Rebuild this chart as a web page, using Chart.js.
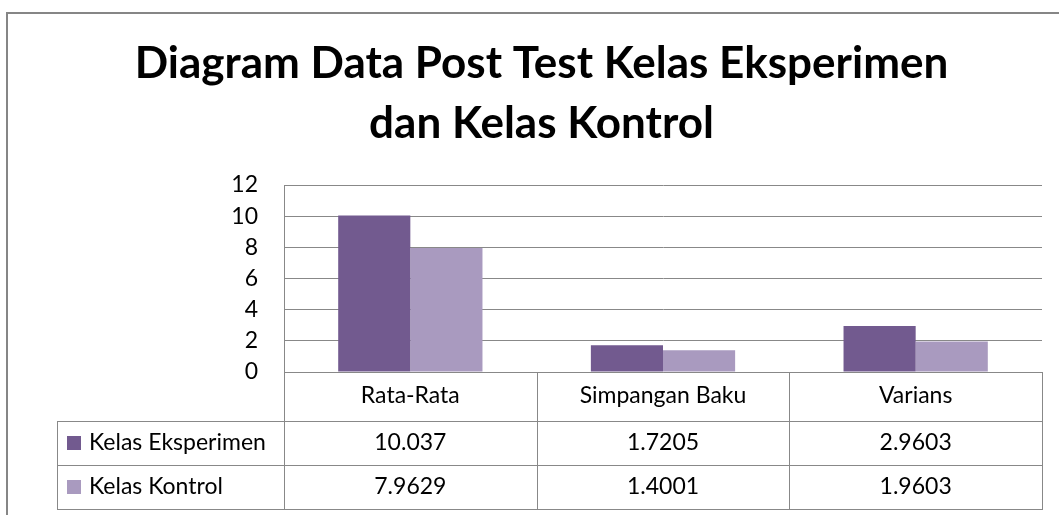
<!DOCTYPE html>
<html>
<head>
<meta charset="utf-8">
<script src="https://cdn.jsdelivr.net/npm/chart.js@4"></script>
<style>
  html, body { margin: 0; padding: 0; background: #fff; }
  #wrap { width: 1059px; height: 515px; position: relative; }
</style>
</head>
<body>
<div id="wrap"><canvas id="myChart"></canvas></div>
<script>
const categories = ['Rata-Rata', 'Simpangan Baku', 'Varians'];
const seriesNames = ['Kelas Eksperimen', 'Kelas Kontrol'];
const eksperimen = [10.037, 1.7205, 2.9603];
const kontrol = [7.9629, 1.4001, 1.9603];
const yTicks = [0, 2, 4, 6, 8, 10, 12];

const colors = ['#725a8f', '#a99abf'];
const lineColor = '#888888';
const fontFamily = 'Lato, "Open Sans", sans-serif';

// data table under the plot, columns follow the x scale
const dataTable = {
    id: 'dataTable',
    afterDraw(chart) {
        const c = chart.ctx;
        const x = chart.scales.x;
        const area = chart.chartArea;
        const half = (x.getPixelForValue(1) - x.getPixelForValue(0)) / 2;
        const tableLeft = 57;
        const rowTops = [area.bottom, 421, 465, 509];
        const rows = [eksperimen, kontrol];

        c.save();
        c.strokeStyle = lineColor;
        c.lineWidth = 1;
        c.beginPath();
        // horizontal lines
        for (let i = 1; i < rowTops.length; i++) {
            c.moveTo(tableLeft, rowTops[i] + 0.5);
            c.lineTo(area.right + 1, rowTops[i] + 0.5);
        }
        // column lines
        c.moveTo(area.left + 0.5, area.bottom);
        c.lineTo(area.left + 0.5, rowTops[3]);
        categories.forEach((cat, i) => {
            const r = Math.round(x.getPixelForValue(i) + half) + 0.5;
            c.moveTo(r, area.bottom);
            c.lineTo(r, rowTops[3]);
        });
        c.moveTo(tableLeft + 0.5, rowTops[1]);
        c.lineTo(tableLeft + 0.5, rowTops[3]);
        c.stroke();

        c.font = '23px ' + fontFamily;
        c.textBaseline = 'middle';
        rows.forEach((vals, r) => {
            const cy = (rowTops[r + 1] + rowTops[r + 2]) / 2;
            c.fillStyle = colors[r];
            c.fillRect(67, cy - 7, 14, 14);
            c.fillStyle = '#000';
            c.textAlign = 'left';
            c.fillText(seriesNames[r], 89, cy);
            c.textAlign = 'center';
            vals.forEach((v, i) => {
                c.fillText(String(v), x.getPixelForValue(i), cy);
            });
        });
        c.restore();
    }
};

// outer chart frame
const frame = {
    id: 'frame',
    beforeDraw(chart) {
        const c = chart.ctx;
        c.save();
        c.strokeStyle = '#868686';
        c.lineWidth = 2;
        c.strokeRect(7, 13, 1100, 600);
        c.restore();
    }
};

new Chart(document.getElementById('myChart'), {
    type: 'bar',
    data: {
        labels: categories,
        datasets: [
            { label: seriesNames[0], data: eksperimen, backgroundColor: colors[0] },
            { label: seriesNames[1], data: kontrol, backgroundColor: colors[1] }
        ]
    },
    options: {
        responsive: true,
        maintainAspectRatio: false,
        animation: false,
        layout: { padding: { left: 41, right: 17, top: 0, bottom: 0 } },
        datasets: {
            bar: { categoryPercentage: 0.571, barPercentage: 1.0, borderWidth: 0 }
        },
        plugins: {
            legend: { display: false },
            tooltip: { enabled: false },
            title: {
                display: true,
                text: ['Diagram Data Post Test Kelas Eksperimen', 'dan Kelas Kontrol'],
                color: '#000',
                font: { family: fontFamily, size: 44, weight: 'bold', lineHeight: 1.364 },
                padding: { top: 34, bottom: 31 }
            }
        },
        scales: {
            x: {
                grid: { display: false, drawTicks: false },
                border: { display: true, color: lineColor },
                ticks: { color: '#000', font: { family: fontFamily, size: 23 }, padding: 10, maxRotation: 0 },
                afterFit(scale) { scale.height = 143; }
            },
            y: {
                min: 0,
                max: 12,
                afterBuildTicks(scale) { scale.ticks = yTicks.map(v => ({ value: v })); },
                grid: { color: lineColor, drawTicks: false },
                border: { display: true, color: lineColor },
                ticks: { color: '#000', font: { family: fontFamily, size: 23 }, padding: 26 },
                afterFit(scale) { scale.width = 243; }
            }
        }
    },
    plugins: [frame, dataTable]
});
</script>
</body>
</html>
